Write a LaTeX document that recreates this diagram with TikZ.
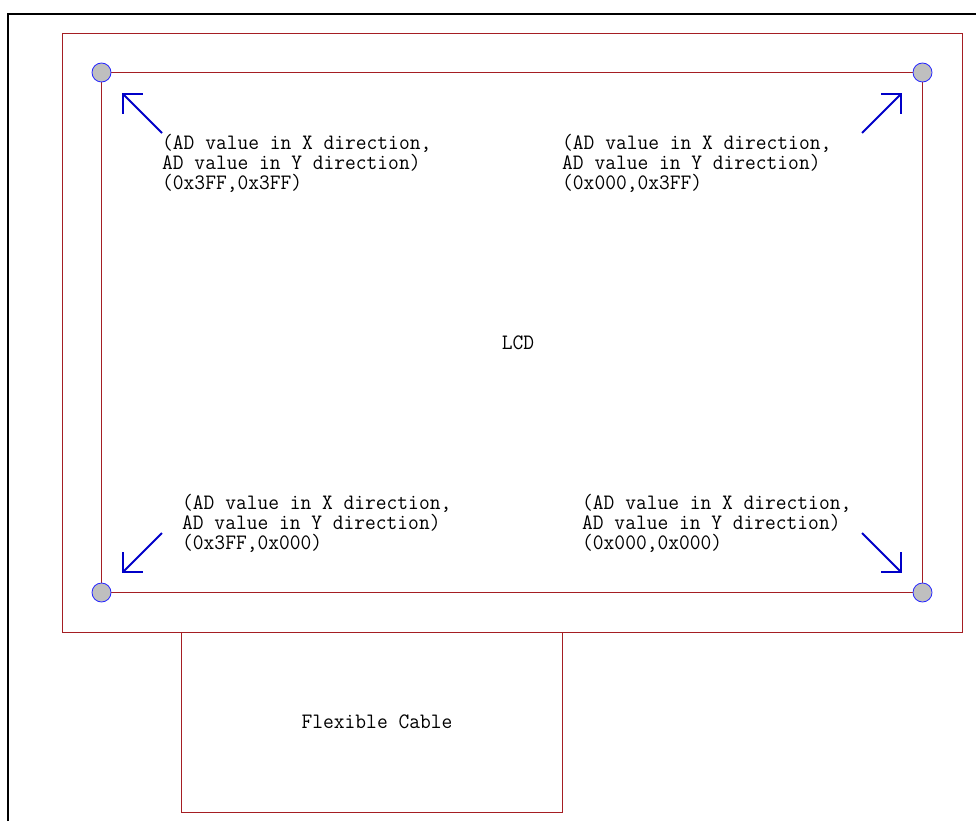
\documentclass[tikz,border=0pt]{standalone}
\usepackage{fontspec}
\setmonofont[FakeStretch=0.95]{Latin Modern Mono}
\usetikzlibrary{arrows.meta,positioning}
\definecolor{lcdred}{RGB}{165,30,35}
\definecolor{padblue}{RGB}{40,40,255}
\definecolor{arrowblue}{RGB}{0,0,200}

\begin{document}
\begin{tikzpicture}[
  x=1pt, y=-1pt,
  frame/.style={draw=lcdred, line width=1pt},
  pad/.style={circle, draw=padblue, fill=black!25, line width=0.8pt, minimum size=19pt, inner sep=0pt},
  corner/.style={draw=arrowblue, line width=2pt, -{Straight Barb[length=14pt, width=28pt, line join=miter]}},
  coord text/.style={align=left, anchor=north west, inner sep=0pt, font=\ttfamily\fontsize{22}{20}\selectfont},
  plain text/.style={inner sep=0pt, font=\ttfamily\fontsize{22}{20}\selectfont}
]
  \useasboundingbox (0,0) rectangle (976,821);
  \draw[line width=2pt] (8,821) -- (8,14) -- (976,14);
  % panel and cable
  \draw[frame] (62.5,33.5) rectangle (962.5,632.5);
  \draw[frame] (101.5,72.5) rectangle (922.5,592.5);
  \draw[frame] (181.5,632.5) rectangle (562.5,812.5);
  \node[plain text] (lcd) at (518,343) {LCD};
  \node[plain text] (cable) at (377,722) {Flexible Cable};
  % corner pads
  \node[pad] (tl) at (101.5,72.5) {};
  \node[pad] (tr) at (922.5,72.5) {};
  \node[pad] (bl) at (101.5,592.5) {};
  \node[pad] (br) at (922.5,592.5) {};
  % arrow ends
  \coordinate (tl tip) at (122,93);
  \coordinate (tr tip) at (902,93);
  \coordinate (bl tip) at (122,573);
  \coordinate (br tip) at (902,573);
  \coordinate (tl tail) at (162,133);
  \coordinate (tr tail) at (862,133);
  \coordinate (bl tail) at (162,533);
  \coordinate (br tail) at (862,533);
  \draw[corner] (tl tail) -- (tl tip);
  \draw[corner] (tr tail) -- (tr tip);
  \draw[corner] (bl tail) -- (bl tip);
  \draw[corner] (br tail) -- (br tip);
  % AD values
  \node[coord text] (tl text) at (162,134) {(AD value in X direction,\\AD value in Y direction)\\(0x3FF,0x3FF)};
  \node[coord text] (tr text) at (562,134) {(AD value in X direction,\\AD value in Y direction)\\(0x000,0x3FF)};
  \node[coord text] (bl text) at (182,494) {(AD value in X direction,\\AD value in Y direction)\\(0x3FF,0x000)};
  \node[coord text] (br text) at (582,494) {(AD value in X direction,\\AD value in Y direction)\\(0x000,0x000)};
\end{tikzpicture}
\end{document}
